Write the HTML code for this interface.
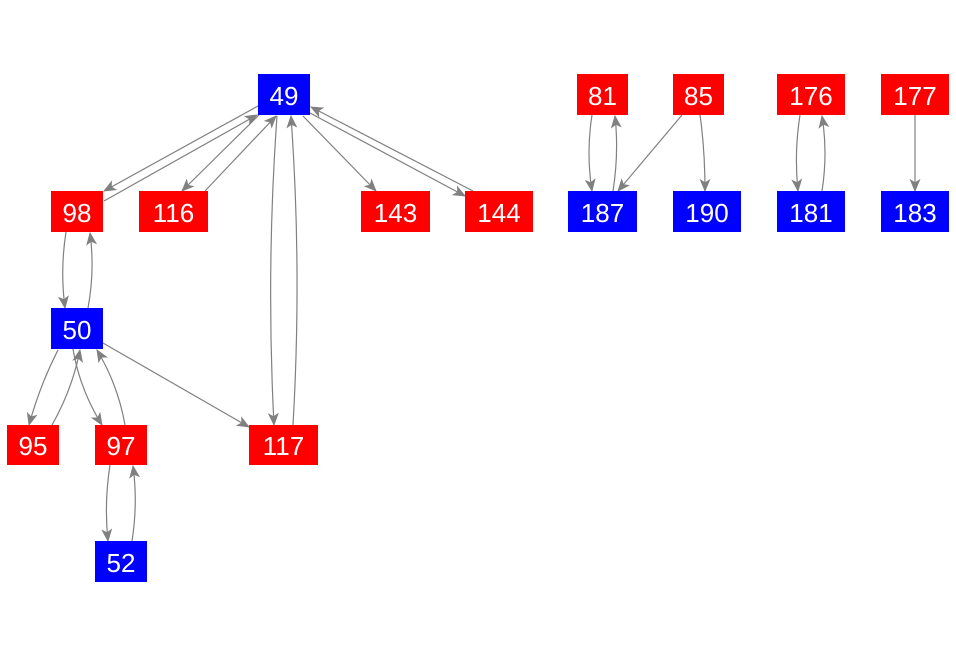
<!DOCTYPE html>
<html><head><meta charset="utf-8"><style>
html,body{margin:0;padding:0;background:#fff}
svg{display:block}
text{font-family:"Liberation Sans",Arial,sans-serif;font-size:26px;fill:#fff;text-anchor:middle;dominant-baseline:central}
</style></head><body>
<svg width="956" height="656" viewBox="0 0 956 656" xmlns="http://www.w3.org/2000/svg">
<defs><marker id="a" viewBox="0 0 12 10" refX="11" refY="5" markerWidth="14" markerHeight="11" markerUnits="userSpaceOnUse" orient="auto"><path d="M0,0 L12,5 L0,10 L3,5 z" fill="#808080"/></marker></defs>
<g fill="none" stroke="#808080" stroke-width="1.2" marker-end="url(#a)">
<path d="M258,106 L104,191"/>
<path d="M104,201 L257,115"/>
<path d="M260,114 L182,191"/>
<path d="M205,191 L276,116"/>
<path d="M277,116 Q266,270 274,425"/>
<path d="M293,425 Q302,270 291,116"/>
<path d="M303,116 L376,191"/>
<path d="M310,113 L465,196"/>
<path d="M473,191 L311,107"/>
<path d="M66,232 Q60,270 65,308"/>
<path d="M88,308 Q95,270 90,233"/>
<path d="M58,350 Q40,385 29,425"/>
<path d="M52,425 Q72,390 80,350"/>
<path d="M73,349 Q80,390 102,425"/>
<path d="M125,425 Q118,385 97,350"/>
<path d="M103,343 L249,427"/>
<path d="M110,465 Q104,503 108,541"/>
<path d="M132,541 Q138,503 133,466"/>
<path d="M592,115 Q586,153 592,191"/>
<path d="M613,191 Q619,153 615,116"/>
<path d="M682,115 L618,191"/>
<path d="M700,115 Q705,150 705,191"/>
<path d="M800,115 Q794,153 798,191"/>
<path d="M822,191 Q828,153 822,116"/>
<path d="M915,115 L915,191"/>
</g>
<g>
<rect x="258" y="74" width="52" height="41" fill="#0000ff"/><text x="284" y="96">49</text>
<rect x="51" y="191" width="52" height="41" fill="#ff0000"/><text x="77" y="213">98</text>
<rect x="139" y="191" width="69" height="41" fill="#ff0000"/><text x="173.5" y="213">116</text>
<rect x="361" y="191" width="69" height="41" fill="#ff0000"/><text x="395.5" y="213">143</text>
<rect x="465" y="191" width="68" height="41" fill="#ff0000"/><text x="499" y="213">144</text>
<rect x="51" y="308" width="52" height="41" fill="#0000ff"/><text x="77" y="330">50</text>
<rect x="7" y="425" width="52" height="40" fill="#ff0000"/><text x="33" y="446">95</text>
<rect x="95" y="425" width="52" height="40" fill="#ff0000"/><text x="121" y="446">97</text>
<rect x="249" y="425" width="69" height="40" fill="#ff0000"/><text x="283.5" y="446">117</text>
<rect x="95" y="541" width="52" height="41" fill="#0000ff"/><text x="121" y="563">52</text>
<rect x="577" y="74" width="51" height="41" fill="#ff0000"/><text x="602.5" y="96">81</text>
<rect x="673" y="74" width="51" height="41" fill="#ff0000"/><text x="698.5" y="96">85</text>
<rect x="777" y="74" width="68" height="41" fill="#ff0000"/><text x="811" y="96">176</text>
<rect x="881" y="74" width="68" height="41" fill="#ff0000"/><text x="915" y="96">177</text>
<rect x="568" y="191" width="69" height="41" fill="#0000ff"/><text x="602.5" y="213">187</text>
<rect x="673" y="191" width="68" height="41" fill="#0000ff"/><text x="707" y="213">190</text>
<rect x="777" y="191" width="68" height="41" fill="#0000ff"/><text x="811" y="213">181</text>
<rect x="881" y="191" width="68" height="41" fill="#0000ff"/><text x="915" y="213">183</text>
</g>
</svg>
</body></html>
